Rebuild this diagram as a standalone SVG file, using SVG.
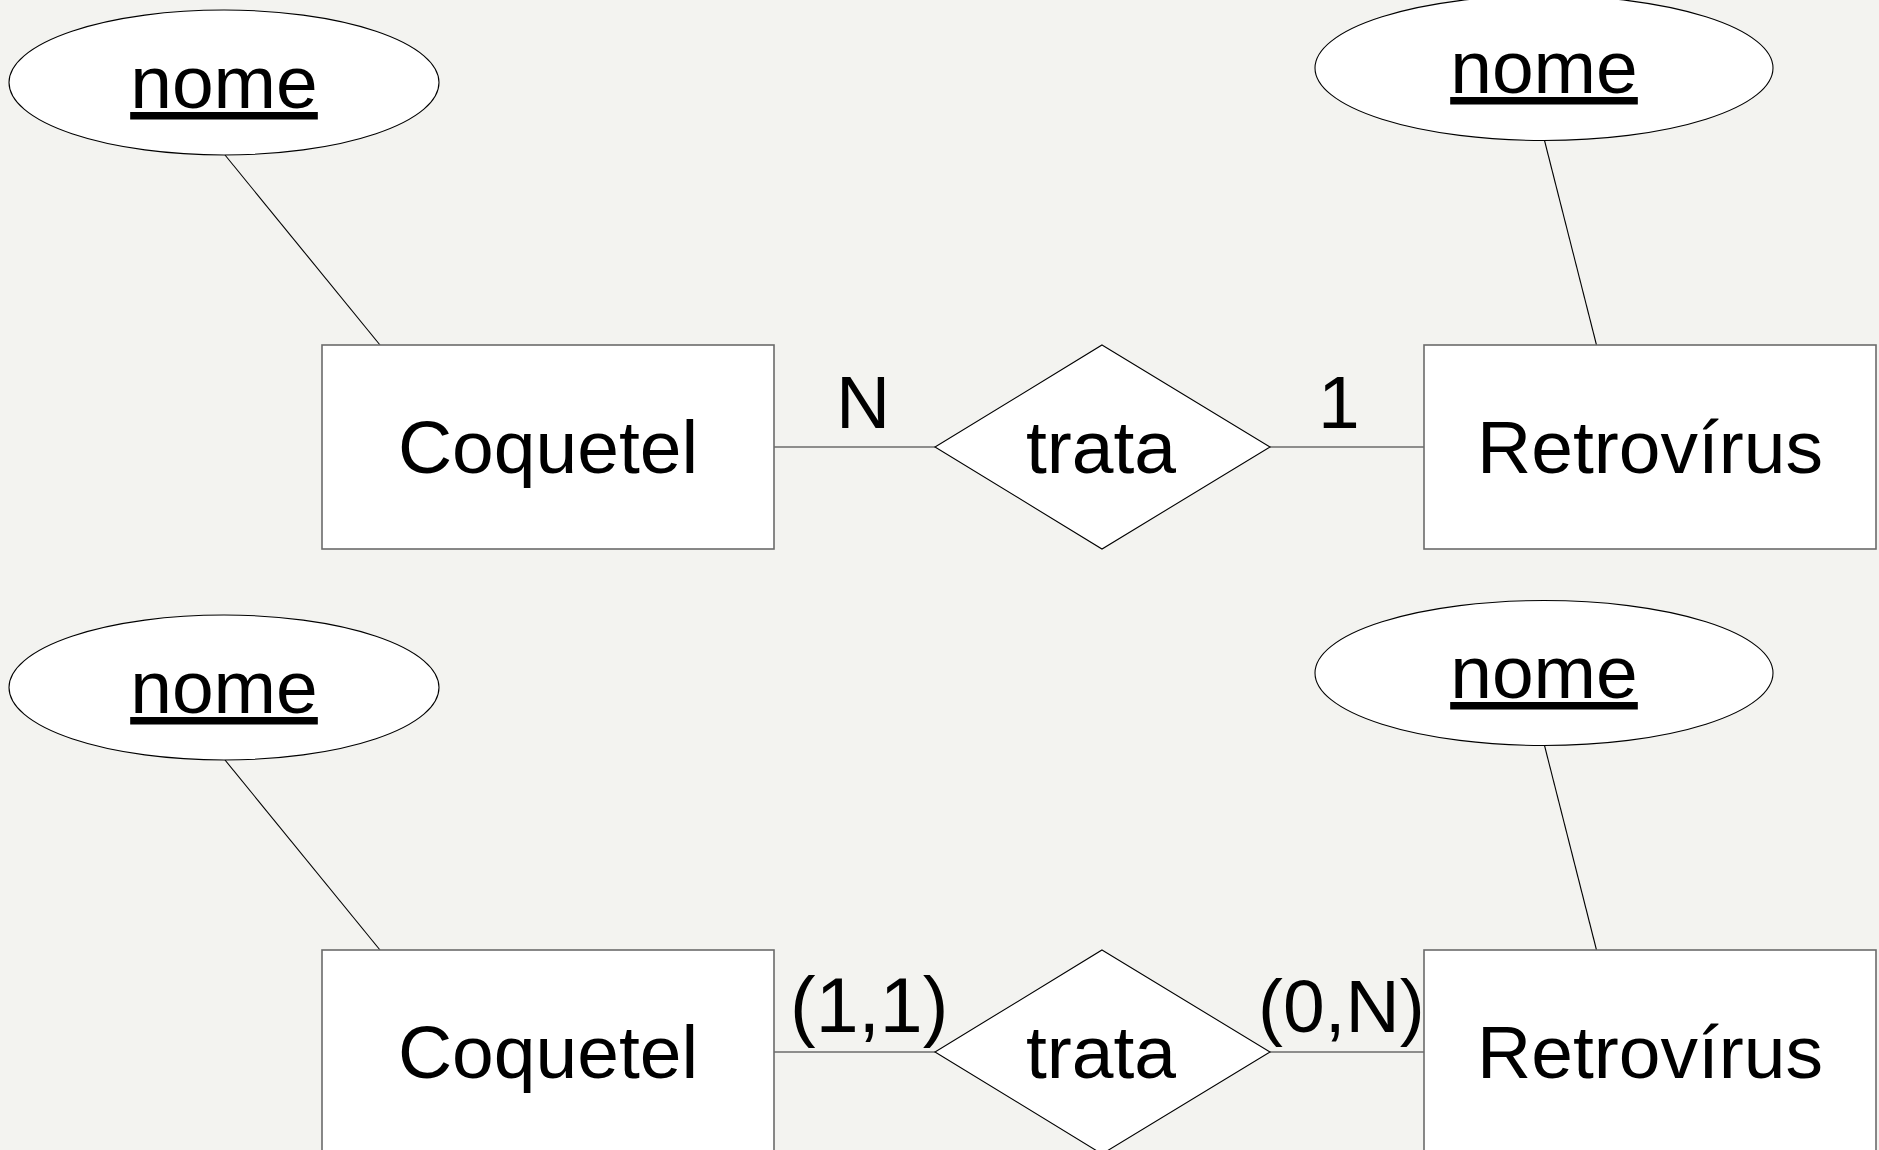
<svg xmlns="http://www.w3.org/2000/svg" width="1879" height="1150" viewBox="0 0 1879 1150">
  <style>
    .bg { fill: #f3f3f0; }
    .entity { fill: #ffffff; stroke: #6b6b6b; stroke-width: 1.6; }
    .attr { fill: #ffffff; stroke: #000000; stroke-width: 1.1; }
    .rel { fill: #ffffff; stroke: #000000; stroke-width: 1.1; }
    .link { stroke: #000000; stroke-width: 1.1; fill: none; }
    .conn { stroke: #6b6b6b; stroke-width: 1.6; fill: none; }
    .lbl { font-family: "Liberation Sans", Arial, sans-serif; font-size: 75px; fill: #000000; }
    .mid { text-anchor: middle; }
    .key { text-decoration: underline; }
  </style>
  <rect class="bg" x="0" y="0" width="1879" height="1150"/>

  <g id="connectors">
    <line class="link" x1="225" y1="155" x2="380" y2="345"/>
    <line class="link" x1="1544.5" y1="140.5" x2="1596.5" y2="345"/>
    <line class="conn" x1="774" y1="447" x2="935" y2="447"/>
    <line class="conn" x1="1270" y1="447" x2="1424" y2="447"/>
    <line class="link" x1="225" y1="760" x2="380" y2="950"/>
    <line class="link" x1="1544.5" y1="745.5" x2="1596.5" y2="950"/>
    <line class="conn" x1="774" y1="1052" x2="935" y2="1052"/>
    <line class="conn" x1="1270" y1="1052" x2="1424" y2="1052"/>
  </g>

  <g id="attr-nome-coquetel-1">
    <ellipse class="attr" cx="224" cy="82.5" rx="215" ry="72.5"/>
    <text class="lbl mid key" x="224" y="108">nome</text>
  </g>
  <g id="attr-nome-retrovirus-1">
    <ellipse class="attr" cx="1544" cy="68" rx="229" ry="72.5"/>
    <text class="lbl mid key" x="1544" y="93">nome</text>
  </g>
  <g id="entity-coquetel-1">
    <rect class="entity" x="322" y="345" width="452" height="204"/>
    <text class="lbl mid" x="548" y="473">Coquetel</text>
  </g>
  <g id="rel-trata-1">
    <polygon class="rel" points="1102,345 1270,447 1102,549 935,447"/>
    <text class="lbl mid" x="1101" y="473">trata</text>
  </g>
  <g id="entity-retrovirus-1">
    <rect class="entity" x="1424" y="345" width="452" height="204"/>
    <text class="lbl mid" x="1650" y="473">Retrovírus</text>
  </g>
  <g id="card-1">
    <text class="lbl" x="836" y="428">N</text>
    <text class="lbl" x="1318" y="428">1</text>
  </g>

  <g id="attr-nome-coquetel-2">
    <ellipse class="attr" cx="224" cy="687.5" rx="215" ry="72.5"/>
    <text class="lbl mid key" x="224" y="713">nome</text>
  </g>
  <g id="attr-nome-retrovirus-2">
    <ellipse class="attr" cx="1544" cy="673" rx="229" ry="72.5"/>
    <text class="lbl mid key" x="1544" y="698">nome</text>
  </g>
  <g id="entity-coquetel-2">
    <rect class="entity" x="322" y="950" width="452" height="204"/>
    <text class="lbl mid" x="548" y="1078">Coquetel</text>
  </g>
  <g id="rel-trata-2">
    <polygon class="rel" points="1102,950 1270,1052 1102,1154 935,1052"/>
    <text class="lbl mid" x="1101" y="1078">trata</text>
  </g>
  <g id="entity-retrovirus-2">
    <rect class="entity" x="1424" y="950" width="452" height="204"/>
    <text class="lbl mid" x="1650" y="1078">Retrovírus</text>
  </g>
  <g id="card-2">
    <text class="lbl" x="790" y="1032" style="font-size:77px">(1,1)</text>
    <text class="lbl" x="1258" y="1032">(0,N)</text>
  </g>
</svg>
